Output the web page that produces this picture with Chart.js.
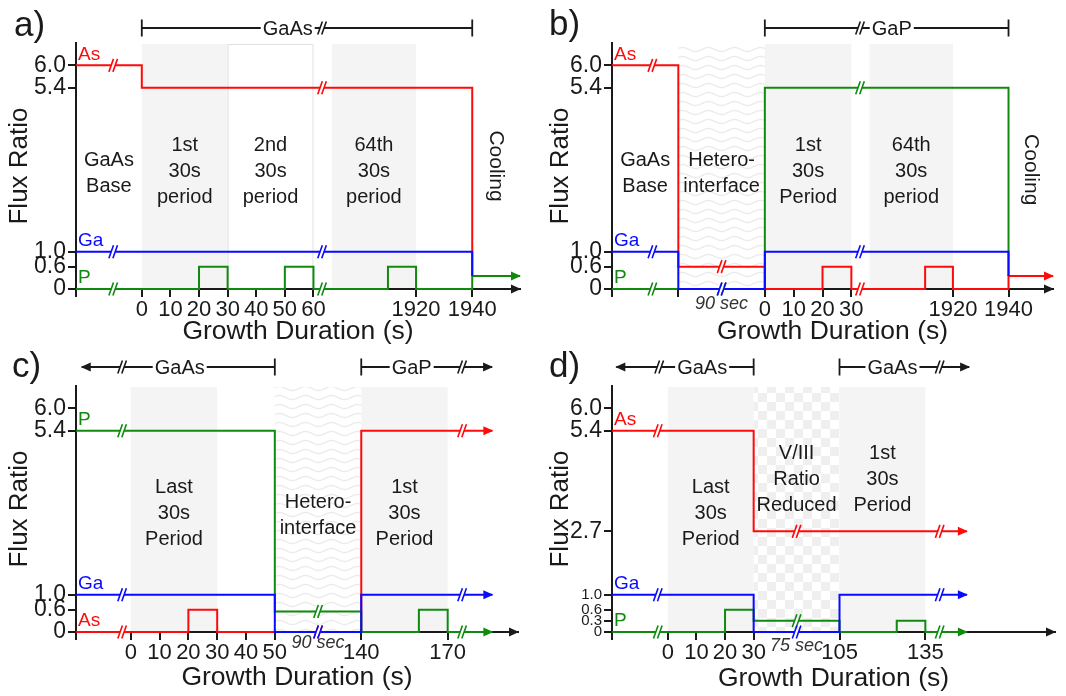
<!DOCTYPE html>
<html lang="en">
<head>
<meta charset="UTF-8">
<title>Flux ratio sequences</title>
<script src="https://cdn.jsdelivr.net/npm/chart.js"></script>
<style>
  html, body { margin: 0; padding: 0; background: #fff; overflow: hidden; }
  .panel { position: absolute; width: 533px; height: 348px; }
</style>
</head>
<body>
<canvas id="panelA" class="panel" style="left:0;top:0" width="533" height="348"></canvas>
<canvas id="panelB" class="panel" style="left:533px;top:0" width="533" height="348"></canvas>
<canvas id="panelC" class="panel" style="left:0;top:348px" width="533" height="348"></canvas>
<canvas id="panelD" class="panel" style="left:533px;top:348px" width="533" height="348"></canvas>
<script>
// flux ratio tick marks
const fluxTicks = [0, 0.6, 1.0, 5.4, 6.0];
const fluxTickText = ['0', '0.6', '1.0', '5.4', '6.0'];
const dFluxTicks = [0, 0.3, 0.6, 1.0, 2.7, 5.4, 6.0];
const dFluxTickText = ['0', '0.3', '0.6', '1.0', '2.7', '5.4', '6.0'];

// a) GaAs with periodic P pulses (times in s)
const aTicks = [-23, 0, 10, 20, 30, 40, 50, 60, 1920, 1940];
const aTickText = ['', '0', '10', '20', '30', '40', '50', '60', '1920', '1940'];
const aAsTime = [-23, 0, 0, 1940, 1940];
const aAsFlux = [6.0, 6.0, 5.4, 5.4, 0.35];
const aGaTime = [-23, 1940, 1940];
const aGaFlux = [1.0, 1.0, 0.35];
const aPTime = [-23, 20, 20, 30, 30, 50, 50, 60, 60, 1910, 1910, 1920, 1920, 1940, 1940, 1957];
const aPFlux = [0, 0, 0.6, 0.6, 0, 0, 0.6, 0.6, 0, 0, 0.6, 0.6, 0, 0, 0.35, 0.35];

// b) GaP with periodic As pulses
const bTicks = [-113, -90, 0, 10, 20, 30, 1920, 1940];
const bTickText = ['', '', '0', '10', '20', '30', '1920', '1940'];
const bAsTime = [-113, -90, -90, 0, 0, 20, 20, 30, 30, 1910, 1910, 1920, 1920, 1940, 1940, 1956];
const bAsFlux = [6.0, 6.0, 0.6, 0.6, 0, 0, 0.6, 0.6, 0, 0, 0.6, 0.6, 0, 0, 0.35, 0.35];
const bGaTime = [-113, -90, -90, 0, 0, 1940, 1940];
const bGaFlux = [1.0, 1.0, 0, 0, 1.0, 1.0, 0.35];
const bPTime = [-113, 0, 0, 1940, 1940];
const bPFlux = [0, 0, 5.4, 5.4, 0.35];

// c) GaAs -> GaP hetero-interface
const cTicks = [-19, 0, 10, 20, 30, 40, 50, 140, 170];
const cTickText = ['', '0', '10', '20', '30', '40', '50', '140', '170'];
const cPTime = [-19, 50, 50, 140, 140, 160, 160, 170, 170, 185.5];
const cPFlux = [5.4, 5.4, 0.55, 0.55, 0, 0, 0.6, 0.6, 0, 0];
const cGaTime = [-19, 50, 50, 140, 140, 185.5];
const cGaFlux = [1.0, 1.0, 0, 0, 1.0, 1.0];
const cAsTime = [-19, 20, 20, 30, 30, 140, 140, 185.5];
const cAsFlux = [0, 0, 0.6, 0.6, 0, 0, 5.4, 5.4];

// d) GaAs with reduced V/III ratio step
const dTicks = [-19.5, 0, 10, 20, 30, 105, 135];
const dTickText = ['', '0', '10', '20', '30', '105', '135'];
const dAsTime = [-19.5, 30, 30, 149.5];
const dAsFlux = [5.4, 5.4, 2.7, 2.7];
const dGaTime = [-19.5, 30, 30, 105, 105, 149.5];
const dGaFlux = [1.0, 1.0, 0, 0, 1.0, 1.0];
const dPTime = [-19.5, 20, 20, 30, 30, 105, 105, 125, 125, 135, 135, 149.5];
const dPFlux = [0, 0, 0.6, 0.6, 0.3, 0.3, 0, 0, 0.3, 0.3, 0, 0];

const FONT = '"Liberation Sans", Arial, Helvetica, sans-serif';
const INK = '#1a1a1a';
const RED = '#ff0a0a', BLUE = '#0a0aff', GREEN = '#0f8a0f';
const W = 533, H = 348;

Chart.defaults.font.family = FONT;
Chart.defaults.color = INK;

// piecewise-linear map from time to position on the broken axis
function axisMap(knots) {
  return t => {
    let i = 0;
    while (i < knots.length - 2 && t > knots[i + 1][0]) i++;
    const [t0, u0] = knots[i], [t1, u1] = knots[i + 1];
    return u0 + (t - t0) * (u1 - u0) / (t1 - t0);
  };
}

function fluxAt(s, t) {
  let v = s.flux[0];
  for (let i = 0; i < s.time.length; i++) if (s.time[i] <= t) v = s.flux[i];
  return v;
}

function wavePattern(ctx) {
  const c = document.createElement('canvas');
  c.width = 26; c.height = 9;
  const g = c.getContext('2d');
  g.fillStyle = '#fff';
  g.fillRect(0, 0, 26, 9);
  g.strokeStyle = '#ebebeb';
  g.lineWidth = 1.4;
  g.beginPath();
  for (let x = 0; x <= 26; x++) {
    const y = 4.5 + 2 * Math.sin(x / 26 * 2 * Math.PI);
    if (x === 0) g.moveTo(x, y); else g.lineTo(x, y);
  }
  g.stroke();
  return ctx.createPattern(c, 'repeat');
}

function checkerPattern(ctx) {
  const c = document.createElement('canvas');
  c.width = 18; c.height = 18;
  const g = c.getContext('2d');
  g.fillStyle = '#fff';
  g.fillRect(0, 0, 18, 18);
  g.fillStyle = '#efefef';
  g.fillRect(0, 0, 9, 9);
  g.fillRect(9, 9, 9, 9);
  return ctx.createPattern(c, 'repeat');
}

// "//" break mark across a horizontal line
function drawBreak(ctx, x, y, color) {
  const hh = 6.5, dx = 2.3, sep = 2;
  const k = dx / hh;
  ctx.save();
  ctx.fillStyle = '#fff';
  ctx.beginPath();
  ctx.moveTo(x - sep - 2.5 * k, y + 2.5);
  ctx.lineTo(x - sep + 2.5 * k, y - 2.5);
  ctx.lineTo(x + sep + 2.5 * k, y - 2.5);
  ctx.lineTo(x + sep - 2.5 * k, y + 2.5);
  ctx.closePath();
  ctx.fill();
  ctx.strokeStyle = color;
  ctx.lineWidth = 1.6;
  ctx.beginPath();
  [-sep, sep].forEach(o => {
    ctx.moveTo(x + o - dx, y + hh);
    ctx.lineTo(x + o + dx, y - hh);
  });
  ctx.stroke();
  ctx.restore();
}

function drawArrowHead(ctx, x, y, dir, color) {
  ctx.save();
  ctx.fillStyle = color;
  ctx.beginPath();
  ctx.moveTo(x, y);
  ctx.lineTo(x - dir * 10, y - 4.5);
  ctx.lineTo(x - dir * 10, y + 4.5);
  ctx.closePath();
  ctx.fill();
  ctx.restore();
}

function panelPlugin(p) {
  let wave = null, checker = null;
  return {
    id: 'panel' + p.letter,
    beforeDraw(chart) {
      const ctx = chart.ctx, area = chart.chartArea;
      const X = t => chart.scales.x.getPixelForValue(p.toAxis(t));
      if (!wave) { wave = wavePattern(ctx); checker = checkerPattern(ctx); }
      ctx.save();
      p.regions.forEach(r => {
        const x0 = X(r.from), x1 = X(r.to);
        const top = area.top + 1, h = area.bottom - 1 - top;
        if (r.style === 'box') {
          ctx.strokeStyle = '#e0e0e0';
          ctx.lineWidth = 1;
          ctx.strokeRect(x0 + 0.5, top + 0.5, x1 - x0 - 1, h);
          return;
        }
        ctx.fillStyle = r.style === 'wave' ? wave : r.style === 'check' ? checker : '#f4f4f4';
        ctx.fillRect(x0, top, x1 - x0, h);
      });
      ctx.restore();
    },
    afterDatasetsDraw(chart) {
      const ctx = chart.ctx;
      const X = t => chart.scales.x.getPixelForValue(p.toAxis(t));
      const Y = v => chart.scales.y.getPixelForValue(v);
      p.series.slice().reverse().forEach(s => {
        p.breaks.forEach(t => drawBreak(ctx, X(t), Y(fluxAt(s, t)), s.color));
        if (s.arrow) {
          const n = s.time.length - 1;
          drawArrowHead(ctx, X(s.time[n]) + 1, Y(s.flux[n]), 1, s.color);
        }
      });
    },
    afterDraw(chart) {
      const ctx = chart.ctx, area = chart.chartArea;
      const X = t => chart.scales.x.getPixelForValue(p.toAxis(t));
      const Y = v => chart.scales.y.getPixelForValue(v);
      ctx.save();

      // arrow on the time axis
      drawArrowHead(ctx, area.right + 1, area.bottom, 1, INK);

      // region captions
      ctx.fillStyle = INK;
      ctx.textAlign = 'center';
      ctx.textBaseline = 'middle';
      p.texts.forEach(tx => {
        const cx = (X(tx.from) + X(tx.to)) / 2, cy = Y(tx.at);
        if (tx.rotate) {
          ctx.save();
          ctx.font = `21px ${FONT}`;
          ctx.translate(cx, cy);
          ctx.rotate(Math.PI / 2);
          ctx.fillText(tx.lines[0], 0, 0);
          ctx.restore();
          return;
        }
        ctx.font = `20px ${FONT}`;
        const lh = 26, y0 = cy - (tx.lines.length - 1) * lh / 2;
        tx.lines.forEach((ln, i) => ctx.fillText(ln, cx, y0 + i * lh));
      });

      // duration notes under the axis
      ctx.font = `italic 18px ${FONT}`;
      ctx.fillStyle = '#333';
      p.notes.forEach(n => ctx.fillText(n.text, X(n.at), area.bottom + n.dy));

      // species labels
      ctx.font = `19px ${FONT}`;
      ctx.textAlign = 'left';
      p.series.forEach(s => {
        ctx.fillStyle = s.color;
        ctx.fillText(s.name, area.left + 2, Y(s.flux[0]) - 11);
      });

      // layer brackets along the top
      const by = area.top - p.bracketRise;
      p.brackets.forEach(b => {
        const x0 = X(b.from), x1 = X(b.to), xm = X(b.labelAt);
        ctx.font = `20px ${FONT}`;
        const w = ctx.measureText(b.label).width;
        ctx.strokeStyle = INK;
        ctx.lineWidth = 1.8;
        ctx.beginPath();
        ctx.moveTo(x0, by); ctx.lineTo(xm - w / 2 - 2, by);
        ctx.moveTo(xm + w / 2 + 2, by); ctx.lineTo(x1, by);
        [[x0, b.left], [x1, b.right]].forEach(([x, kind]) => {
          if (kind === 'tick') { ctx.moveTo(x, by - 8.5); ctx.lineTo(x, by + 8.5); }
        });
        ctx.stroke();
        if (b.left === 'arrow') drawArrowHead(ctx, x0 - 1, by, -1, INK);
        if (b.right === 'arrow') drawArrowHead(ctx, x1 + 1, by, 1, INK);
        drawBreak(ctx, X(b.breakAt), by, INK);
        ctx.fillStyle = INK;
        ctx.textAlign = 'center';
        ctx.fillText(b.label, xm, by + 1);
      });

      // panel letter
      ctx.font = `35px ${FONT}`;
      ctx.fillStyle = INK;
      ctx.textAlign = 'left';
      ctx.textBaseline = 'alphabetic';
      ctx.fillText(p.letter + ')', p.letterX, p.letterY);
      ctx.restore();
    }
  };
}

function makeChart(id, p) {
  p.toAxis = axisMap(p.knots);
  const tickUnits = p.ticks.map(p.toAxis);
  const datasets = p.series.map(s => ({
    label: s.name,
    data: s.time.map((t, i) => ({ x: p.toAxis(t), y: s.flux[i] })),
    borderColor: s.color,
    borderWidth: 2,
    pointRadius: 0,
    tension: 0,
    fill: false,
    clip: false
  }));
  return new Chart(document.getElementById(id), {
    type: 'line',
    data: { datasets },
    options: {
      responsive: false,
      animation: false,
      events: [],
      layout: { padding: { left: 0, top: p.area.top, right: W - p.area.right, bottom: 0 } },
      plugins: { legend: { display: false }, tooltip: { enabled: false } },
      scales: {
        x: {
          type: 'linear',
          min: p.toAxis(p.start),
          max: p.toAxis(p.end),
          afterFit: s => { s.height = H - p.area.bottom; },
          afterBuildTicks: s => { s.ticks = tickUnits.map(v => ({ value: v })); },
          ticks: {
            autoSkip: false, maxRotation: 0, minRotation: 0, padding: 0,
            color: INK, font: { size: 22 },
            callback: (v, i) => p.tickText[i]
          },
          grid: { drawOnChartArea: false, drawTicks: true, tickLength: 8, lineWidth: 2, tickWidth: 2, color: INK, tickColor: INK },
          border: { display: true, color: INK, width: 2 },
          title: { display: true, text: 'Growth Duration (s)', color: INK, font: { size: 26.5 }, padding: { top: 0, bottom: p.xTitlePad } }
        },
        y: {
          type: 'linear',
          min: 0,
          max: 6.6,
          afterFit: s => { s.width = p.area.left; },
          afterBuildTicks: s => { s.ticks = p.yTicks.map(v => ({ value: v })); },
          ticks: {
            autoSkip: false, padding: 2, color: INK,
            font: ctx => ({ size: ctx.tick && ctx.tick.value < p.smallBelow ? 15 : 23 }),
            callback: (v, i) => p.yTickText[i]
          },
          grid: { drawOnChartArea: false, drawTicks: true, tickLength: 8, lineWidth: 2, tickWidth: 2, color: INK, tickColor: INK },
          border: { display: true, color: INK, width: 2 },
          title: { display: true, text: 'Flux Ratio', color: INK, font: { size: 26 }, padding: { top: p.yTitlePad, bottom: 0 } }
        }
      }
    },
    plugins: [panelPlugin(p)]
  });
}

makeChart('panelA', {
  letter: 'a', letterX: 14, letterY: 36,
  area: { left: 76, top: 43, right: 520, bottom: 289 },
  knots: [[-23, -23], [63, 63], [1890, 66.4], [1940, 115.5]],
  start: -23, end: 1957,
  ticks: aTicks, tickText: aTickText,
  yTicks: fluxTicks, yTickText: fluxTickText, smallBelow: -1,
  xTitlePad: 0, yTitlePad: 4, bracketRise: 15,
  series: [
    { name: 'Ga', color: BLUE, time: aGaTime, flux: aGaFlux },
    { name: 'P', color: GREEN, time: aPTime, flux: aPFlux, arrow: true },
    { name: 'As', color: RED, time: aAsTime, flux: aAsFlux }
  ],
  breaks: [-10, 63],
  regions: [
    { from: 0, to: 30, style: 'gray' },
    { from: 30, to: 60, style: 'box' },
    { from: 1890, to: 1920, style: 'gray' }
  ],
  texts: [
    { lines: ['GaAs', 'Base'], from: -23, to: 0, at: 3.1 },
    { lines: ['1st', '30s', 'period'], from: 0, to: 30, at: 3.15 },
    { lines: ['2nd', '30s', 'period'], from: 30, to: 60, at: 3.15 },
    { lines: ['64th', '30s', 'period'], from: 1890, to: 1920, at: 3.15 },
    { lines: ['Cooling'], from: 1940, to: 1957, at: 3.3, rotate: true }
  ],
  notes: [],
  brackets: [{ from: 0, to: 1940, label: 'GaAs', labelAt: 51, breakAt: 63, left: 'tick', right: 'tick' }]
});

makeChart('panelB', {
  letter: 'b', letterX: 16, letterY: 35,
  area: { left: 79, top: 43, right: 520, bottom: 289 },
  knots: [[-113, -53], [-90, -30], [0, 0], [33, 33], [1890, 36.3], [1940, 84.5]],
  start: -113, end: 1956,
  ticks: bTicks, tickText: bTickText,
  yTicks: fluxTicks, yTickText: fluxTickText, smallBelow: -1,
  xTitlePad: 0, yTitlePad: 12, bracketRise: 15,
  series: [
    { name: 'Ga', color: BLUE, time: bGaTime, flux: bGaFlux },
    { name: 'P', color: GREEN, time: bPTime, flux: bPFlux },
    { name: 'As', color: RED, time: bAsTime, flux: bAsFlux, arrow: true }
  ],
  breaks: [-99, -45, 33],
  regions: [
    { from: -90, to: 0, style: 'wave' },
    { from: 0, to: 30, style: 'gray' },
    { from: 1890, to: 1920, style: 'gray' }
  ],
  texts: [
    { lines: ['GaAs', 'Base'], from: -113, to: -90, at: 3.1 },
    { lines: ['Hetero-', 'interface'], from: -90, to: 0, at: 3.1 },
    { lines: ['1st', '30s', 'Period'], from: 0, to: 30, at: 3.15 },
    { lines: ['64th', '30s', 'period'], from: 1890, to: 1920, at: 3.15 },
    { lines: ['Cooling'], from: 1940, to: 1956, at: 3.2, rotate: true }
  ],
  notes: [{ text: '90 sec', at: -45, dy: 15 }],
  brackets: [{ from: 0, to: 1940, label: 'GaP', labelAt: 1898, breakAt: 33, left: 'tick', right: 'tick' }]
});

makeChart('panelC', {
  letter: 'c', letterX: 12, letterY: 29,
  area: { left: 76, top: 38, right: 518, bottom: 284 },
  knots: [[-19, -19], [50, 50], [140, 80], [170, 110]],
  start: -19, end: 194.4,
  ticks: cTicks, tickText: cTickText,
  yTicks: fluxTicks, yTickText: fluxTickText, smallBelow: -1,
  xTitlePad: 2, yTitlePad: 4, bracketRise: 19,
  series: [
    { name: 'Ga', color: BLUE, time: cGaTime, flux: cGaFlux, arrow: true },
    { name: 'P', color: GREEN, time: cPTime, flux: cPFlux, arrow: true },
    { name: 'As', color: RED, time: cAsTime, flux: cAsFlux, arrow: true }
  ],
  breaks: [-3, 95, 175],
  regions: [
    { from: 0, to: 30, style: 'gray' },
    { from: 50, to: 140, style: 'wave' },
    { from: 140, to: 170, style: 'gray' }
  ],
  texts: [
    { lines: ['Last', '30s', 'Period'], from: 0, to: 30, at: 3.19 },
    { lines: ['Hetero-', 'interface'], from: 50, to: 140, at: 3.13 },
    { lines: ['1st', '30s', 'Period'], from: 140, to: 170, at: 3.17 }
  ],
  notes: [{ text: '90 sec', at: 95, dy: 11 }],
  brackets: [
    { from: -17, to: 50, label: 'GaAs', labelAt: 17, breakAt: -3, left: 'arrow', right: 'tick' },
    { from: 140, to: 185.4, label: 'GaP', labelAt: 157.5, breakAt: 175, left: 'tick', right: 'arrow' }
  ]
});

makeChart('panelD', {
  letter: 'd', letterX: 16, letterY: 29,
  area: { left: 79, top: 38, right: 522, bottom: 284 },
  knots: [[-19.5, -19.5], [30, 30], [105, 60], [135, 90]],
  start: -19.5, end: 180.3,
  ticks: dTicks, tickText: dTickText,
  yTicks: dFluxTicks, yTickText: dFluxTickText, smallBelow: 2,
  xTitlePad: 1, yTitlePad: 12, bracketRise: 19,
  series: [
    { name: 'Ga', color: BLUE, time: dGaTime, flux: dGaFlux, arrow: true },
    { name: 'P', color: GREEN, time: dPTime, flux: dPFlux, arrow: true },
    { name: 'As', color: RED, time: dAsTime, flux: dAsFlux, arrow: true }
  ],
  breaks: [-3.5, 67.5, 140],
  regions: [
    { from: 0, to: 30, style: 'gray' },
    { from: 30, to: 105, style: 'check' },
    { from: 105, to: 135, style: 'gray' }
  ],
  texts: [
    { lines: ['Last', '30s', 'Period'], from: 0, to: 30, at: 3.19 },
    { lines: ['V/III', 'Ratio', 'Reduced'], from: 30, to: 105, at: 4.1 },
    { lines: ['1st', '30s', 'Period'], from: 105, to: 135, at: 4.1 }
  ],
  notes: [{ text: '75 sec', at: 67.5, dy: 14 }],
  brackets: [
    { from: -18, to: 30, label: 'GaAs', labelAt: 12, breakAt: -3, left: 'arrow', right: 'tick' },
    { from: 105, to: 150.3, label: 'GaAs', labelAt: 123.5, breakAt: 140, left: 'tick', right: 'arrow' }
  ]
});
</script>
</body>
</html>
